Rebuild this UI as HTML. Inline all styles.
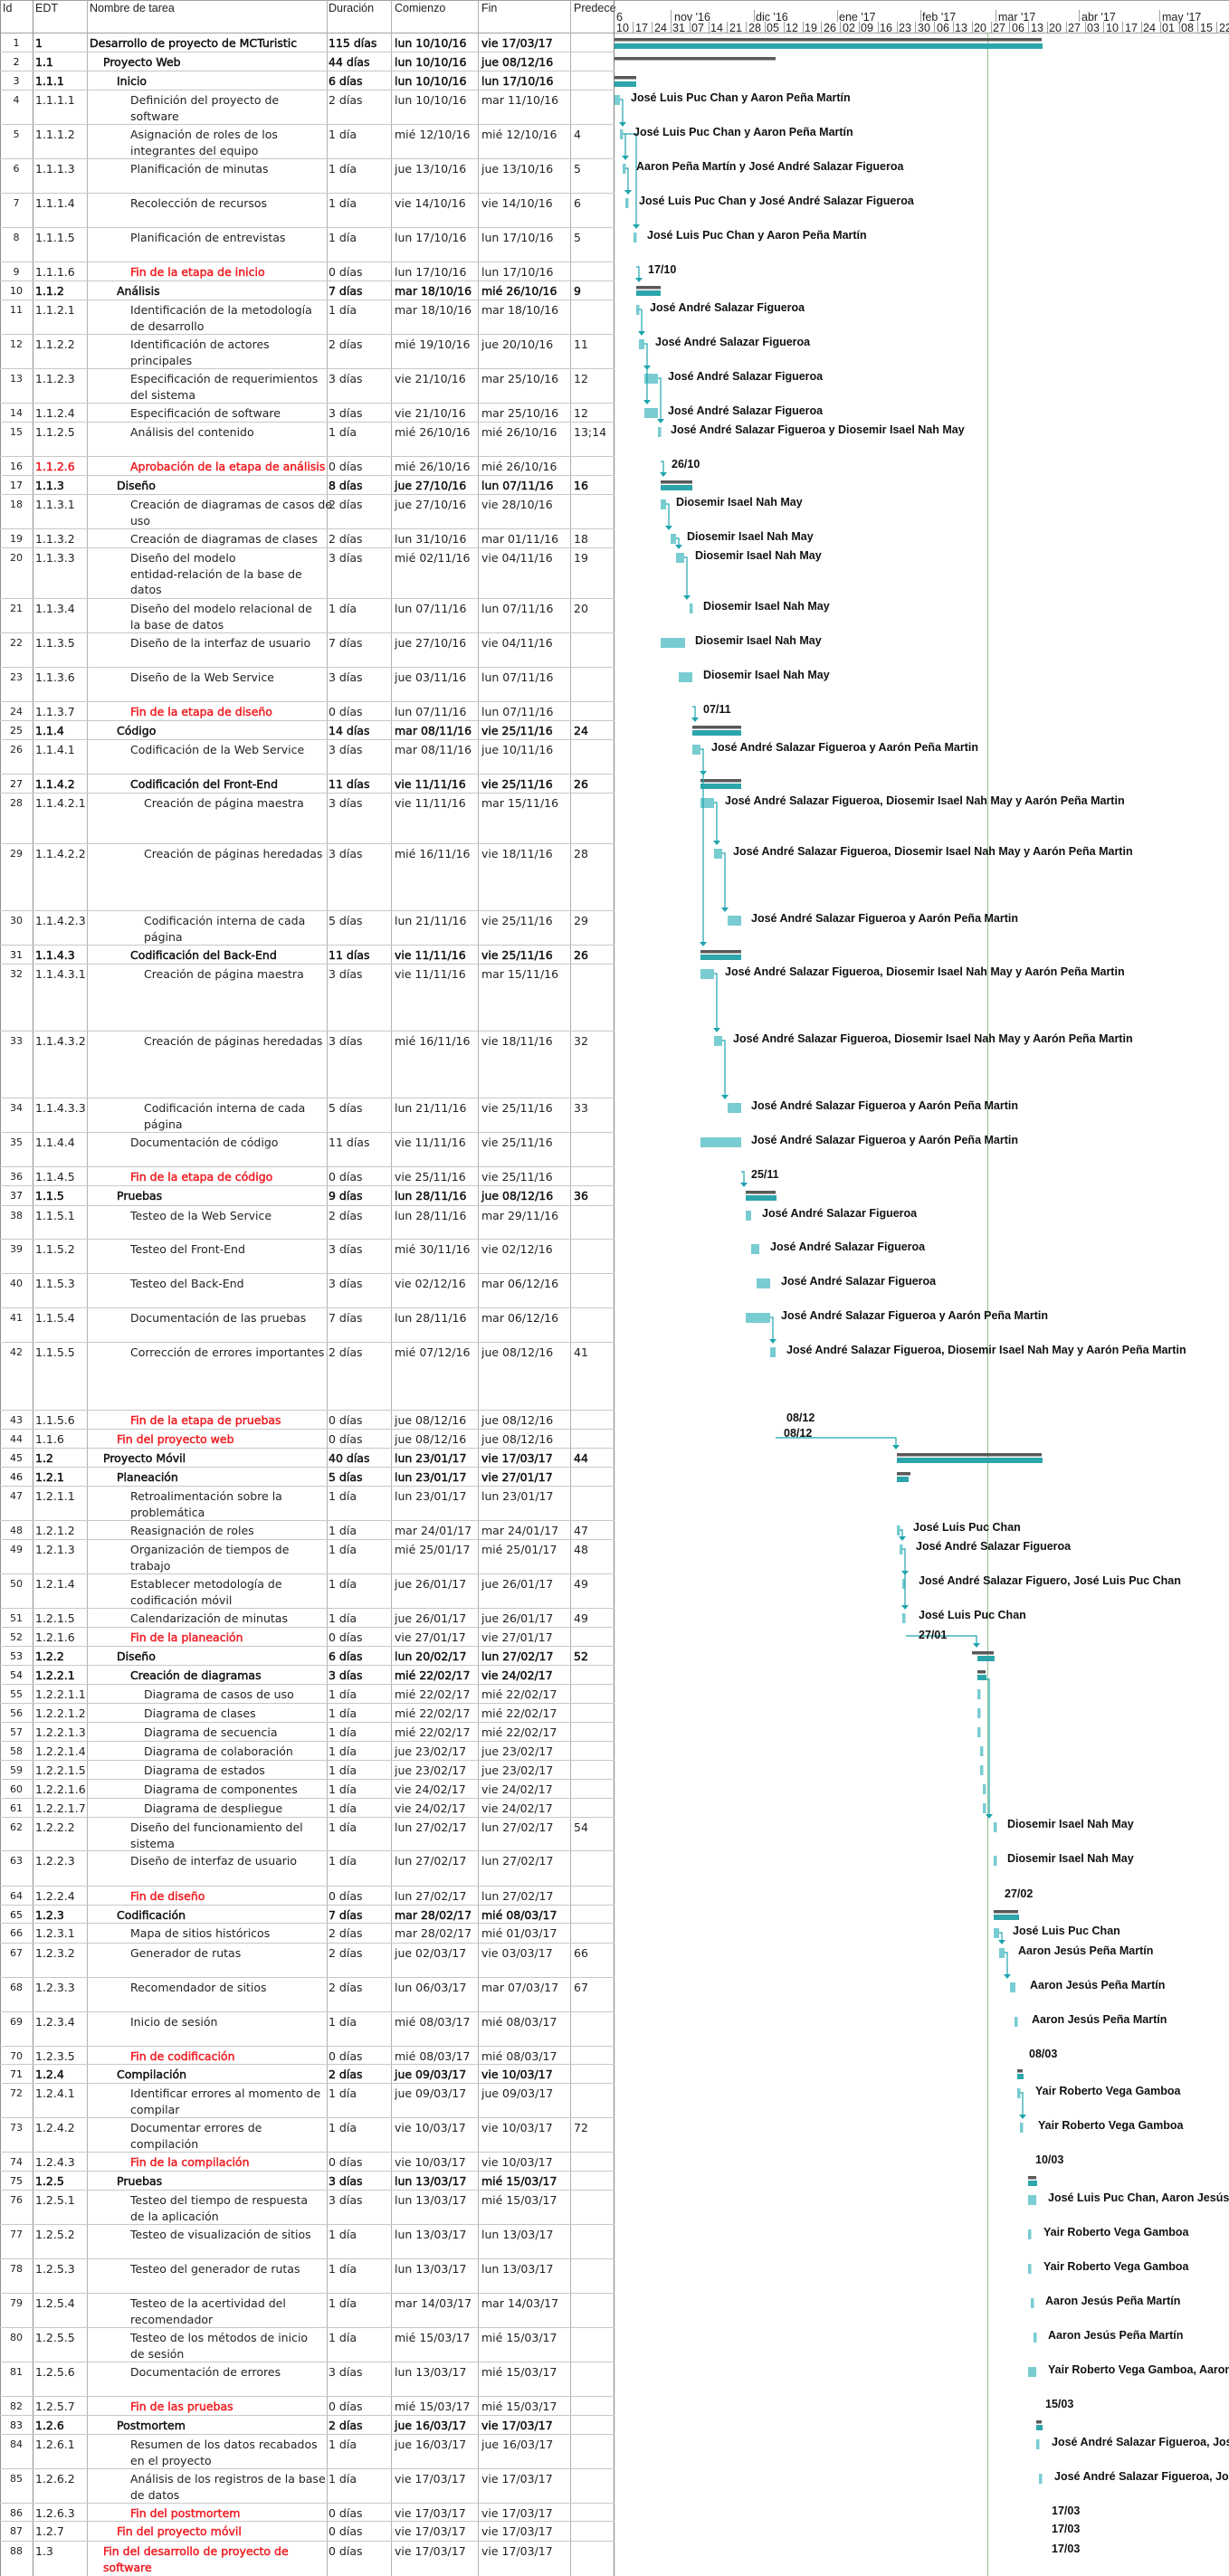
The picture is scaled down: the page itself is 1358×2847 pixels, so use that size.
<!DOCTYPE html>
<html><head><meta charset="utf-8">
<style>
html,body{margin:0;padding:0;background:#fff}
body{width:1358px;height:2847px;position:relative;overflow:hidden;font-family:"DejaVu Sans",sans-serif;font-size:12.5px;color:#222}
.r{position:absolute;left:0;width:679px;border-bottom:1px solid #c8c8c8;box-sizing:border-box}
.r span{position:absolute;top:2px;line-height:17.5px;white-space:nowrap}
.a{left:0;width:36px;text-align:center;font-size:11px}
.e{left:39px}.d{left:363px}.s{left:436px}.f{left:532px}.p{left:634px}
.l1{left:99px}.l2{left:114px}.l3{left:129px}.l4{left:144px}.l5{left:159px}
.B span{-webkit-text-stroke:.45px;color:#111}
.B span.a{-webkit-text-stroke:0}
.red{color:#f01e23!important;-webkit-text-stroke:.45px}
.v{position:absolute;top:0;width:1px;height:2847px;background:#b0b0b0}
.h{position:absolute;top:0;height:37px;font-family:"Liberation Sans",sans-serif;font-size:12.5px;color:#222;line-height:18px}
</style></head><body>
<div style="position:absolute;left:0;top:0;width:1358px;height:1px;background:#a0a0a0"></div>
<div style="position:absolute;left:0;top:36px;width:1358px;height:1px;background:#a0a0a0"></div>
<div class="h" style="left:3px">Id</div>
<div class="h" style="left:39px">EDT</div>
<div class="h" style="left:99px">Nombre de tarea</div>
<div class="h" style="left:363px">Duración</div>
<div class="h" style="left:436px">Comienzo</div>
<div class="h" style="left:532px">Fin</div>
<div class="h" style="left:634px">Predece</div>
<div class="v" style="left:0;background:#909090"></div>
<div class="v" style="left:36px;background:#909090"></div>
<div class="v" style="left:96px"></div>
<div class="v" style="left:361px"></div>
<div class="v" style="left:432px"></div>
<div class="v" style="left:528px"></div>
<div class="v" style="left:630px"></div>
<div class="v" style="left:678px;background:#808080"></div>

<div class="r B" style="top:37px;height:21px"><span class="a">1</span><span class="e">1</span><span class="l1">Desarrollo de proyecto de MCTuristic</span><span class="d">115 días</span><span class="s">lun 10/10/16</span><span class="f">vie 17/03/17</span></div>
<div class="r B" style="top:58px;height:21px"><span class="a">2</span><span class="e">1.1</span><span class="l2">Proyecto Web</span><span class="d">44 días</span><span class="s">lun 10/10/16</span><span class="f">jue 08/12/16</span></div>
<div class="r B" style="top:79px;height:21px"><span class="a">3</span><span class="e">1.1.1</span><span class="l3">Inicio</span><span class="d">6 días</span><span class="s">lun 10/10/16</span><span class="f">lun 17/10/16</span></div>
<div class="r" style="top:100px;height:38px"><span class="a">4</span><span class="e">1.1.1.1</span><span class="l4">Definición del proyecto de<br>software</span><span class="d">2 días</span><span class="s">lun 10/10/16</span><span class="f">mar 11/10/16</span></div>
<div class="r" style="top:138px;height:38px"><span class="a">5</span><span class="e">1.1.1.2</span><span class="l4">Asignación de roles de los<br>integrantes del equipo</span><span class="d">1 día</span><span class="s">mié 12/10/16</span><span class="f">mié 12/10/16</span><span class="p">4</span></div>
<div class="r" style="top:176px;height:38px"><span class="a">6</span><span class="e">1.1.1.3</span><span class="l4">Planificación de minutas</span><span class="d">1 día</span><span class="s">jue 13/10/16</span><span class="f">jue 13/10/16</span><span class="p">5</span></div>
<div class="r" style="top:214px;height:38px"><span class="a">7</span><span class="e">1.1.1.4</span><span class="l4">Recolección de recursos</span><span class="d">1 día</span><span class="s">vie 14/10/16</span><span class="f">vie 14/10/16</span><span class="p">6</span></div>
<div class="r" style="top:252px;height:38px"><span class="a">8</span><span class="e">1.1.1.5</span><span class="l4">Planificación de entrevistas</span><span class="d">1 día</span><span class="s">lun 17/10/16</span><span class="f">lun 17/10/16</span><span class="p">5</span></div>
<div class="r" style="top:290px;height:21px"><span class="a">9</span><span class="e">1.1.1.6</span><span class="l4 red">Fin de la etapa de inicio</span><span class="d">0 días</span><span class="s">lun 17/10/16</span><span class="f">lun 17/10/16</span></div>
<div class="r B" style="top:311px;height:21px"><span class="a">10</span><span class="e">1.1.2</span><span class="l3">Análisis</span><span class="d">7 días</span><span class="s">mar 18/10/16</span><span class="f">mié 26/10/16</span><span class="p">9</span></div>
<div class="r" style="top:332px;height:38px"><span class="a">11</span><span class="e">1.1.2.1</span><span class="l4">Identificación de la metodología<br>de desarrollo</span><span class="d">1 día</span><span class="s">mar 18/10/16</span><span class="f">mar 18/10/16</span></div>
<div class="r" style="top:370px;height:38px"><span class="a">12</span><span class="e">1.1.2.2</span><span class="l4">Identificación de actores<br>principales</span><span class="d">2 días</span><span class="s">mié 19/10/16</span><span class="f">jue 20/10/16</span><span class="p">11</span></div>
<div class="r" style="top:408px;height:38px"><span class="a">13</span><span class="e">1.1.2.3</span><span class="l4">Especificación de requerimientos<br>del sistema</span><span class="d">3 días</span><span class="s">vie 21/10/16</span><span class="f">mar 25/10/16</span><span class="p">12</span></div>
<div class="r" style="top:446px;height:21px"><span class="a">14</span><span class="e">1.1.2.4</span><span class="l4">Especificación de software</span><span class="d">3 días</span><span class="s">vie 21/10/16</span><span class="f">mar 25/10/16</span><span class="p">12</span></div>
<div class="r" style="top:467px;height:38px"><span class="a">15</span><span class="e">1.1.2.5</span><span class="l4">Análisis del contenido</span><span class="d">1 día</span><span class="s">mié 26/10/16</span><span class="f">mié 26/10/16</span><span class="p">13;14</span></div>
<div class="r" style="top:505px;height:21px"><span class="a">16</span><span class="e red">1.1.2.6</span><span class="l4 red">Aprobación de la etapa de análisis</span><span class="d">0 días</span><span class="s">mié 26/10/16</span><span class="f">mié 26/10/16</span></div>
<div class="r B" style="top:526px;height:21px"><span class="a">17</span><span class="e">1.1.3</span><span class="l3">Diseño</span><span class="d">8 días</span><span class="s">jue 27/10/16</span><span class="f">lun 07/11/16</span><span class="p">16</span></div>
<div class="r" style="top:547px;height:38px"><span class="a">18</span><span class="e">1.1.3.1</span><span class="l4">Creación de diagramas de casos de<br>uso</span><span class="d">2 días</span><span class="s">jue 27/10/16</span><span class="f">vie 28/10/16</span></div>
<div class="r" style="top:585px;height:21px"><span class="a">19</span><span class="e">1.1.3.2</span><span class="l4">Creación de diagramas de clases</span><span class="d">2 días</span><span class="s">lun 31/10/16</span><span class="f">mar 01/11/16</span><span class="p">18</span></div>
<div class="r" style="top:606px;height:56px"><span class="a">20</span><span class="e">1.1.3.3</span><span class="l4">Diseño del modelo<br>entidad-relación de la base de<br>datos</span><span class="d">3 días</span><span class="s">mié 02/11/16</span><span class="f">vie 04/11/16</span><span class="p">19</span></div>
<div class="r" style="top:662px;height:38px"><span class="a">21</span><span class="e">1.1.3.4</span><span class="l4">Diseño del modelo relacional de<br>la base de datos</span><span class="d">1 día</span><span class="s">lun 07/11/16</span><span class="f">lun 07/11/16</span><span class="p">20</span></div>
<div class="r" style="top:700px;height:38px"><span class="a">22</span><span class="e">1.1.3.5</span><span class="l4">Diseño de la interfaz de usuario</span><span class="d">7 días</span><span class="s">jue 27/10/16</span><span class="f">vie 04/11/16</span></div>
<div class="r" style="top:738px;height:38px"><span class="a">23</span><span class="e">1.1.3.6</span><span class="l4">Diseño de la Web Service</span><span class="d">3 días</span><span class="s">jue 03/11/16</span><span class="f">lun 07/11/16</span></div>
<div class="r" style="top:776px;height:21px"><span class="a">24</span><span class="e">1.1.3.7</span><span class="l4 red">Fin de la etapa de diseño</span><span class="d">0 días</span><span class="s">lun 07/11/16</span><span class="f">lun 07/11/16</span></div>
<div class="r B" style="top:797px;height:21px"><span class="a">25</span><span class="e">1.1.4</span><span class="l3">Código</span><span class="d">14 días</span><span class="s">mar 08/11/16</span><span class="f">vie 25/11/16</span><span class="p">24</span></div>
<div class="r" style="top:818px;height:38px"><span class="a">26</span><span class="e">1.1.4.1</span><span class="l4">Codificación de la Web Service</span><span class="d">3 días</span><span class="s">mar 08/11/16</span><span class="f">jue 10/11/16</span></div>
<div class="r B" style="top:856px;height:21px"><span class="a">27</span><span class="e">1.1.4.2</span><span class="l4">Codificación del Front-End</span><span class="d">11 días</span><span class="s">vie 11/11/16</span><span class="f">vie 25/11/16</span><span class="p">26</span></div>
<div class="r" style="top:877px;height:56px"><span class="a">28</span><span class="e">1.1.4.2.1</span><span class="l5">Creación de página maestra</span><span class="d">3 días</span><span class="s">vie 11/11/16</span><span class="f">mar 15/11/16</span></div>
<div class="r" style="top:933px;height:74px"><span class="a">29</span><span class="e">1.1.4.2.2</span><span class="l5">Creación de páginas heredadas</span><span class="d">3 días</span><span class="s">mié 16/11/16</span><span class="f">vie 18/11/16</span><span class="p">28</span></div>
<div class="r" style="top:1007px;height:38px"><span class="a">30</span><span class="e">1.1.4.2.3</span><span class="l5">Codificación interna de cada<br>página</span><span class="d">5 días</span><span class="s">lun 21/11/16</span><span class="f">vie 25/11/16</span><span class="p">29</span></div>
<div class="r B" style="top:1045px;height:21px"><span class="a">31</span><span class="e">1.1.4.3</span><span class="l4">Codificación del Back-End</span><span class="d">11 días</span><span class="s">vie 11/11/16</span><span class="f">vie 25/11/16</span><span class="p">26</span></div>
<div class="r" style="top:1066px;height:74px"><span class="a">32</span><span class="e">1.1.4.3.1</span><span class="l5">Creación de página maestra</span><span class="d">3 días</span><span class="s">vie 11/11/16</span><span class="f">mar 15/11/16</span></div>
<div class="r" style="top:1140px;height:74px"><span class="a">33</span><span class="e">1.1.4.3.2</span><span class="l5">Creación de páginas heredadas</span><span class="d">3 días</span><span class="s">mié 16/11/16</span><span class="f">vie 18/11/16</span><span class="p">32</span></div>
<div class="r" style="top:1214px;height:38px"><span class="a">34</span><span class="e">1.1.4.3.3</span><span class="l5">Codificación interna de cada<br>página</span><span class="d">5 días</span><span class="s">lun 21/11/16</span><span class="f">vie 25/11/16</span><span class="p">33</span></div>
<div class="r" style="top:1252px;height:38px"><span class="a">35</span><span class="e">1.1.4.4</span><span class="l4">Documentación de código</span><span class="d">11 días</span><span class="s">vie 11/11/16</span><span class="f">vie 25/11/16</span></div>
<div class="r" style="top:1290px;height:21px"><span class="a">36</span><span class="e">1.1.4.5</span><span class="l4 red">Fin de la etapa de código</span><span class="d">0 días</span><span class="s">vie 25/11/16</span><span class="f">vie 25/11/16</span></div>
<div class="r B" style="top:1311px;height:22px"><span class="a">37</span><span class="e">1.1.5</span><span class="l3">Pruebas</span><span class="d">9 días</span><span class="s">lun 28/11/16</span><span class="f">jue 08/12/16</span><span class="p">36</span></div>
<div class="r" style="top:1333px;height:37px"><span class="a">38</span><span class="e">1.1.5.1</span><span class="l4">Testeo de la Web Service</span><span class="d">2 días</span><span class="s">lun 28/11/16</span><span class="f">mar 29/11/16</span></div>
<div class="r" style="top:1370px;height:38px"><span class="a">39</span><span class="e">1.1.5.2</span><span class="l4">Testeo del Front-End</span><span class="d">3 días</span><span class="s">mié 30/11/16</span><span class="f">vie 02/12/16</span></div>
<div class="r" style="top:1408px;height:38px"><span class="a">40</span><span class="e">1.1.5.3</span><span class="l4">Testeo del Back-End</span><span class="d">3 días</span><span class="s">vie 02/12/16</span><span class="f">mar 06/12/16</span></div>
<div class="r" style="top:1446px;height:38px"><span class="a">41</span><span class="e">1.1.5.4</span><span class="l4">Documentación de las pruebas</span><span class="d">7 días</span><span class="s">lun 28/11/16</span><span class="f">mar 06/12/16</span></div>
<div class="r" style="top:1484px;height:75px"><span class="a">42</span><span class="e">1.1.5.5</span><span class="l4">Corrección de errores importantes</span><span class="d">2 días</span><span class="s">mié 07/12/16</span><span class="f">jue 08/12/16</span><span class="p">41</span></div>
<div class="r" style="top:1559px;height:21px"><span class="a">43</span><span class="e">1.1.5.6</span><span class="l4 red">Fin de la etapa de pruebas</span><span class="d">0 días</span><span class="s">jue 08/12/16</span><span class="f">jue 08/12/16</span></div>
<div class="r" style="top:1580px;height:21px"><span class="a">44</span><span class="e">1.1.6</span><span class="l3 red">Fin del proyecto web</span><span class="d">0 días</span><span class="s">jue 08/12/16</span><span class="f">jue 08/12/16</span></div>
<div class="r B" style="top:1601px;height:21px"><span class="a">45</span><span class="e">1.2</span><span class="l2">Proyecto Móvil</span><span class="d">40 días</span><span class="s">lun 23/01/17</span><span class="f">vie 17/03/17</span><span class="p">44</span></div>
<div class="r B" style="top:1622px;height:21px"><span class="a">46</span><span class="e">1.2.1</span><span class="l3">Planeación</span><span class="d">5 días</span><span class="s">lun 23/01/17</span><span class="f">vie 27/01/17</span></div>
<div class="r" style="top:1643px;height:38px"><span class="a">47</span><span class="e">1.2.1.1</span><span class="l4">Retroalimentación sobre la<br>problemática</span><span class="d">1 día</span><span class="s">lun 23/01/17</span><span class="f">lun 23/01/17</span></div>
<div class="r" style="top:1681px;height:21px"><span class="a">48</span><span class="e">1.2.1.2</span><span class="l4">Reasignación de roles</span><span class="d">1 día</span><span class="s">mar 24/01/17</span><span class="f">mar 24/01/17</span><span class="p">47</span></div>
<div class="r" style="top:1702px;height:38px"><span class="a">49</span><span class="e">1.2.1.3</span><span class="l4">Organización de tiempos de<br>trabajo</span><span class="d">1 día</span><span class="s">mié 25/01/17</span><span class="f">mié 25/01/17</span><span class="p">48</span></div>
<div class="r" style="top:1740px;height:38px"><span class="a">50</span><span class="e">1.2.1.4</span><span class="l4">Establecer metodología de<br>codificación móvil</span><span class="d">1 día</span><span class="s">jue 26/01/17</span><span class="f">jue 26/01/17</span><span class="p">49</span></div>
<div class="r" style="top:1778px;height:21px"><span class="a">51</span><span class="e">1.2.1.5</span><span class="l4">Calendarización de minutas</span><span class="d">1 día</span><span class="s">jue 26/01/17</span><span class="f">jue 26/01/17</span><span class="p">49</span></div>
<div class="r" style="top:1799px;height:21px"><span class="a">52</span><span class="e">1.2.1.6</span><span class="l4 red">Fin de la planeación</span><span class="d">0 días</span><span class="s">vie 27/01/17</span><span class="f">vie 27/01/17</span></div>
<div class="r B" style="top:1820px;height:21px"><span class="a">53</span><span class="e">1.2.2</span><span class="l3">Diseño</span><span class="d">6 días</span><span class="s">lun 20/02/17</span><span class="f">lun 27/02/17</span><span class="p">52</span></div>
<div class="r B" style="top:1841px;height:21px"><span class="a">54</span><span class="e">1.2.2.1</span><span class="l4">Creación de diagramas</span><span class="d">3 días</span><span class="s">mié 22/02/17</span><span class="f">vie 24/02/17</span></div>
<div class="r" style="top:1862px;height:21px"><span class="a">55</span><span class="e">1.2.2.1.1</span><span class="l5">Diagrama de casos de uso</span><span class="d">1 día</span><span class="s">mié 22/02/17</span><span class="f">mié 22/02/17</span></div>
<div class="r" style="top:1883px;height:21px"><span class="a">56</span><span class="e">1.2.2.1.2</span><span class="l5">Diagrama de clases</span><span class="d">1 día</span><span class="s">mié 22/02/17</span><span class="f">mié 22/02/17</span></div>
<div class="r" style="top:1904px;height:21px"><span class="a">57</span><span class="e">1.2.2.1.3</span><span class="l5">Diagrama de secuencia</span><span class="d">1 día</span><span class="s">mié 22/02/17</span><span class="f">mié 22/02/17</span></div>
<div class="r" style="top:1925px;height:21px"><span class="a">58</span><span class="e">1.2.2.1.4</span><span class="l5">Diagrama de colaboración</span><span class="d">1 día</span><span class="s">jue 23/02/17</span><span class="f">jue 23/02/17</span></div>
<div class="r" style="top:1946px;height:21px"><span class="a">59</span><span class="e">1.2.2.1.5</span><span class="l5">Diagrama de estados</span><span class="d">1 día</span><span class="s">jue 23/02/17</span><span class="f">jue 23/02/17</span></div>
<div class="r" style="top:1967px;height:21px"><span class="a">60</span><span class="e">1.2.2.1.6</span><span class="l5">Diagrama de componentes</span><span class="d">1 día</span><span class="s">vie 24/02/17</span><span class="f">vie 24/02/17</span></div>
<div class="r" style="top:1988px;height:21px"><span class="a">61</span><span class="e">1.2.2.1.7</span><span class="l5">Diagrama de despliegue</span><span class="d">1 día</span><span class="s">vie 24/02/17</span><span class="f">vie 24/02/17</span></div>
<div class="r" style="top:2009px;height:37px"><span class="a">62</span><span class="e">1.2.2.2</span><span class="l4">Diseño del funcionamiento del<br>sistema</span><span class="d">1 día</span><span class="s">lun 27/02/17</span><span class="f">lun 27/02/17</span><span class="p">54</span></div>
<div class="r" style="top:2046px;height:39px"><span class="a">63</span><span class="e">1.2.2.3</span><span class="l4">Diseño de interfaz de usuario</span><span class="d">1 día</span><span class="s">lun 27/02/17</span><span class="f">lun 27/02/17</span></div>
<div class="r" style="top:2085px;height:21px"><span class="a">64</span><span class="e">1.2.2.4</span><span class="l4 red">Fin de diseño</span><span class="d">0 días</span><span class="s">lun 27/02/17</span><span class="f">lun 27/02/17</span></div>
<div class="r B" style="top:2106px;height:20px"><span class="a">65</span><span class="e">1.2.3</span><span class="l3">Codificación</span><span class="d">7 días</span><span class="s">mar 28/02/17</span><span class="f">mié 08/03/17</span></div>
<div class="r" style="top:2126px;height:22px"><span class="a">66</span><span class="e">1.2.3.1</span><span class="l4">Mapa de sitios históricos</span><span class="d">2 días</span><span class="s">mar 28/02/17</span><span class="f">mié 01/03/17</span></div>
<div class="r" style="top:2148px;height:38px"><span class="a">67</span><span class="e">1.2.3.2</span><span class="l4">Generador de rutas</span><span class="d">2 días</span><span class="s">jue 02/03/17</span><span class="f">vie 03/03/17</span><span class="p">66</span></div>
<div class="r" style="top:2186px;height:38px"><span class="a">68</span><span class="e">1.2.3.3</span><span class="l4">Recomendador de sitios</span><span class="d">2 días</span><span class="s">lun 06/03/17</span><span class="f">mar 07/03/17</span><span class="p">67</span></div>
<div class="r" style="top:2224px;height:38px"><span class="a">69</span><span class="e">1.2.3.4</span><span class="l4">Inicio de sesión</span><span class="d">1 día</span><span class="s">mié 08/03/17</span><span class="f">mié 08/03/17</span></div>
<div class="r" style="top:2262px;height:20px"><span class="a">70</span><span class="e">1.2.3.5</span><span class="l4 red">Fin de codificación</span><span class="d">0 días</span><span class="s">mié 08/03/17</span><span class="f">mié 08/03/17</span></div>
<div class="r B" style="top:2282px;height:21px"><span class="a">71</span><span class="e">1.2.4</span><span class="l3">Compilación</span><span class="d">2 días</span><span class="s">jue 09/03/17</span><span class="f">vie 10/03/17</span></div>
<div class="r" style="top:2303px;height:38px"><span class="a">72</span><span class="e">1.2.4.1</span><span class="l4">Identificar errores al momento de<br>compilar</span><span class="d">1 día</span><span class="s">jue 09/03/17</span><span class="f">jue 09/03/17</span></div>
<div class="r" style="top:2341px;height:38px"><span class="a">73</span><span class="e">1.2.4.2</span><span class="l4">Documentar errores de<br>compilación</span><span class="d">1 día</span><span class="s">vie 10/03/17</span><span class="f">vie 10/03/17</span><span class="p">72</span></div>
<div class="r" style="top:2379px;height:21px"><span class="a">74</span><span class="e">1.2.4.3</span><span class="l4 red">Fin de la compilación</span><span class="d">0 días</span><span class="s">vie 10/03/17</span><span class="f">vie 10/03/17</span></div>
<div class="r B" style="top:2400px;height:21px"><span class="a">75</span><span class="e">1.2.5</span><span class="l3">Pruebas</span><span class="d">3 días</span><span class="s">lun 13/03/17</span><span class="f">mié 15/03/17</span></div>
<div class="r" style="top:2421px;height:38px"><span class="a">76</span><span class="e">1.2.5.1</span><span class="l4">Testeo del tiempo de respuesta<br>de la aplicación</span><span class="d">3 días</span><span class="s">lun 13/03/17</span><span class="f">mié 15/03/17</span></div>
<div class="r" style="top:2459px;height:38px"><span class="a">77</span><span class="e">1.2.5.2</span><span class="l4">Testeo de visualización de sitios</span><span class="d">1 día</span><span class="s">lun 13/03/17</span><span class="f">lun 13/03/17</span></div>
<div class="r" style="top:2497px;height:38px"><span class="a">78</span><span class="e">1.2.5.3</span><span class="l4">Testeo del generador de rutas</span><span class="d">1 día</span><span class="s">lun 13/03/17</span><span class="f">lun 13/03/17</span></div>
<div class="r" style="top:2535px;height:38px"><span class="a">79</span><span class="e">1.2.5.4</span><span class="l4">Testeo de la acertividad del<br>recomendador</span><span class="d">1 día</span><span class="s">mar 14/03/17</span><span class="f">mar 14/03/17</span></div>
<div class="r" style="top:2573px;height:38px"><span class="a">80</span><span class="e">1.2.5.5</span><span class="l4">Testeo de los métodos de inicio<br>de sesión</span><span class="d">1 día</span><span class="s">mié 15/03/17</span><span class="f">mié 15/03/17</span></div>
<div class="r" style="top:2611px;height:38px"><span class="a">81</span><span class="e">1.2.5.6</span><span class="l4">Documentación de errores</span><span class="d">3 días</span><span class="s">lun 13/03/17</span><span class="f">mié 15/03/17</span></div>
<div class="r" style="top:2649px;height:21px"><span class="a">82</span><span class="e">1.2.5.7</span><span class="l4 red">Fin de las pruebas</span><span class="d">0 días</span><span class="s">mié 15/03/17</span><span class="f">mié 15/03/17</span></div>
<div class="r B" style="top:2670px;height:21px"><span class="a">83</span><span class="e">1.2.6</span><span class="l3">Postmortem</span><span class="d">2 días</span><span class="s">jue 16/03/17</span><span class="f">vie 17/03/17</span></div>
<div class="r" style="top:2691px;height:38px"><span class="a">84</span><span class="e">1.2.6.1</span><span class="l4">Resumen de los datos recabados<br>en el proyecto</span><span class="d">1 día</span><span class="s">jue 16/03/17</span><span class="f">jue 16/03/17</span></div>
<div class="r" style="top:2729px;height:38px"><span class="a">85</span><span class="e">1.2.6.2</span><span class="l4">Análisis de los registros de la base<br>de datos</span><span class="d">1 día</span><span class="s">vie 17/03/17</span><span class="f">vie 17/03/17</span></div>
<div class="r" style="top:2767px;height:20px"><span class="a">86</span><span class="e">1.2.6.3</span><span class="l4 red">Fin del postmortem</span><span class="d">0 días</span><span class="s">vie 17/03/17</span><span class="f">vie 17/03/17</span></div>
<div class="r" style="top:2787px;height:22px"><span class="a">87</span><span class="e">1.2.7</span><span class="l3 red">Fin del proyecto móvil</span><span class="d">0 días</span><span class="s">vie 17/03/17</span><span class="f">vie 17/03/17</span></div>
<div class="r" style="top:2809px;height:38px;border-bottom:0"><span class="a">88</span><span class="e">1.3</span><span class="l2 red">Fin del desarrollo de proyecto de<br>software</span><span class="d">0 días</span><span class="s">vie 17/03/17</span><span class="f">vie 17/03/17</span></div>

<svg style="position:absolute;left:0;top:0" width="1358" height="2847" xmlns="http://www.w3.org/2000/svg">
<g font-family="Liberation Sans, sans-serif" font-size="12.5" fill="#222">
<text x="681" y="23">6</text>
<text x="745" y="23">nov '16</text><text x="835" y="23">dic '16</text><text x="927" y="23">ene '17</text><text x="1019" y="23">feb '17</text><text x="1103" y="23">mar '17</text><text x="1195" y="23">abr '17</text><text x="1284" y="23">may '17</text>
<text x="681" y="35">10</text><text x="702" y="35">17</text><text x="723" y="35">24</text><text x="743" y="35">31</text><text x="764" y="35">07</text><text x="785" y="35">14</text><text x="806" y="35">21</text><text x="827" y="35">28</text><text x="847" y="35">05</text><text x="868" y="35">12</text><text x="889" y="35">19</text><text x="910" y="35">26</text><text x="931" y="35">02</text><text x="951" y="35">09</text><text x="972" y="35">16</text><text x="993" y="35">23</text><text x="1014" y="35">30</text><text x="1035" y="35">06</text><text x="1055" y="35">13</text><text x="1076" y="35">20</text><text x="1097" y="35">27</text><text x="1118" y="35">06</text><text x="1139" y="35">13</text><text x="1159" y="35">20</text><text x="1180" y="35">27</text><text x="1201" y="35">03</text><text x="1222" y="35">10</text><text x="1243" y="35">17</text><text x="1263" y="35">24</text><text x="1284" y="35">01</text><text x="1305" y="35">08</text><text x="1326" y="35">15</text><text x="1347" y="35">22</text>
</g>
<g stroke="#a0a0a0" stroke-width="1">
<path d="M741.5 11V24M833.5 11V24M925.5 11V24M1017.5 11V24M1100.5 11V24M1192.5 11V24M1281.5 11V24"/>
<path d="M699.5 24V37M720.5 24V37M741.5 24V37M762.5 24V37M783.5 24V37M803.5 24V37M824.5 24V37M845.5 24V37M866.5 24V37M887.5 24V37M907.5 24V37M928.5 24V37M949.5 24V37M970.5 24V37M991.5 24V37M1011.5 24V37M1032.5 24V37M1053.5 24V37M1074.5 24V37M1095.5 24V37M1115.5 24V37M1136.5 24V37M1157.5 24V37M1178.5 24V37M1199.5 24V37M1219.5 24V37M1240.5 24V37M1261.5 24V37M1282.5 24V37M1303.5 24V37M1323.5 24V37M1344.5 24V37"/>
</g>
<line x1="1091.5" y1="37" x2="1091.5" y2="2847" stroke="#8fc08f" stroke-width="1"/>

<g fill="#595959">
<rect x="679" y="42" width="472" height="3.5"/><rect x="679" y="63" width="178" height="3.5"/><rect x="679" y="84" width="24" height="3.5"/>
<rect x="703" y="316" width="27" height="3.5"/><rect x="730" y="531" width="35" height="3.5"/><rect x="765" y="802" width="54" height="3.5"/>
<rect x="774" y="861" width="45" height="3.5"/><rect x="774" y="1050" width="45" height="3.5"/><rect x="824" y="1316" width="33" height="3.5"/>
<rect x="991" y="1606" width="160" height="3.5"/><rect x="991" y="1627" width="15" height="3.5"/><rect x="1074" y="1825" width="24" height="3.5"/>
<rect x="1080" y="1846" width="9" height="3.5"/><rect x="1098" y="2111" width="27" height="3.5"/><rect x="1124" y="2287" width="6" height="3.5"/>
<rect x="1136" y="2405" width="9" height="3.5"/><rect x="1145" y="2675" width="6" height="3.5"/>
</g>
<g fill="#2ca5ab">
<rect x="679" y="48" width="473" height="6"/><rect x="679" y="90" width="24" height="6"/>
<rect x="703" y="321" width="27" height="6"/><rect x="730" y="536" width="35" height="6"/><rect x="765" y="807" width="54" height="6"/>
<rect x="774" y="866" width="45" height="6"/><rect x="774" y="1055" width="45" height="6"/><rect x="824" y="1321" width="34" height="6"/>
<rect x="991" y="1611" width="161" height="6"/><rect x="991" y="1632" width="13" height="6"/><rect x="1080" y="1830" width="19" height="6"/>
<rect x="1080" y="1851" width="10" height="6"/><rect x="1098" y="2116" width="28" height="6"/><rect x="1124" y="2292" width="7" height="6"/>
<rect x="1136" y="2410" width="10" height="6"/><rect x="1145" y="2680" width="7" height="6"/>
</g>
<g fill="#78ccd2">
<rect x="679" y="105" width="6" height="11"/><rect x="685" y="143" width="3.5" height="11"/><rect x="688" y="181" width="3.5" height="11"/>
<rect x="691" y="219" width="3.5" height="11"/><rect x="700" y="257" width="3.5" height="11"/>
<rect x="703" y="337" width="3.5" height="11"/><rect x="706" y="375" width="6" height="11"/><rect x="712" y="413" width="15" height="11"/>
<rect x="712" y="451" width="15" height="11"/><rect x="727" y="472" width="3.5" height="11"/>
<rect x="730" y="552" width="6" height="11"/><rect x="741" y="590" width="6" height="11"/><rect x="747" y="611" width="9" height="11"/>
<rect x="762" y="667" width="3.5" height="11"/><rect x="730" y="705" width="27" height="11"/><rect x="750" y="743" width="15" height="11"/>
<rect x="765" y="823" width="9" height="11"/><rect x="774" y="882" width="15" height="11"/><rect x="789" y="938" width="9" height="11"/>
<rect x="804" y="1012" width="15" height="11"/><rect x="774" y="1071" width="15" height="11"/><rect x="789" y="1145" width="9" height="11"/>
<rect x="804" y="1219" width="15" height="11"/><rect x="774" y="1257" width="45" height="11"/>
<rect x="824" y="1338" width="6" height="11"/><rect x="830" y="1375" width="9" height="11"/><rect x="836" y="1413" width="15" height="11"/>
<rect x="824" y="1451" width="27" height="11"/><rect x="851" y="1489" width="6" height="11"/>
<rect x="991" y="1686" width="3.5" height="11"/><rect x="994" y="1707" width="3.5" height="11"/><rect x="997" y="1745" width="3.5" height="11"/><rect x="997" y="1783" width="3.5" height="11"/>
<rect x="1080" y="1867" width="3.5" height="11"/><rect x="1080" y="1888" width="3.5" height="11"/><rect x="1080" y="1909" width="3.5" height="11"/>
<rect x="1083" y="1930" width="3.5" height="11"/><rect x="1083" y="1951" width="3.5" height="11"/><rect x="1086" y="1972" width="3.5" height="11"/><rect x="1086" y="1993" width="3.5" height="11"/>
<rect x="1098" y="2014" width="3.5" height="11"/><rect x="1098" y="2051" width="3.5" height="11"/>
<rect x="1098" y="2131" width="6" height="11"/><rect x="1104" y="2153" width="6" height="11"/><rect x="1116" y="2191" width="6" height="11"/><rect x="1121" y="2229" width="3.5" height="11"/>
<rect x="1124" y="2308" width="3.5" height="11"/><rect x="1127" y="2346" width="3.5" height="11"/>
<rect x="1136" y="2426" width="9" height="11"/><rect x="1136" y="2464" width="3.5" height="11"/><rect x="1136" y="2502" width="3.5" height="11"/>
<rect x="1139" y="2540" width="3.5" height="11"/><rect x="1142" y="2578" width="3.5" height="11"/><rect x="1136" y="2616" width="9" height="11"/>
<rect x="1145" y="2696" width="3.5" height="11"/><rect x="1148" y="2734" width="3.5" height="11"/>
</g>
<g stroke="#1ea5ad" stroke-width="1.2" fill="none">
<path d="M685 110H688V137M688 148H691V175M688 148H703V251M691 186H694V213M703 295H706V310M706 342H709V369M712 380H715V445M727 418H730V466M730 510H733V525M736 557H739V584M747 595H750V605M756 616H759V661M765 781H768V796M774 828H777V1044M789 887H792V932M798 943H801V1006M789 1076H792V1139M798 1150H801V1213M819 1295H822V1310M851 1456H854V1483M857 1589H990V1600M994 1691H997V1701M997 1712H1000V1777M1001 1808H1079V1819M1089 1856H1093V2008M1104 2136H1107V2147M1110 2158H1113V2185M1127 2313H1130V2340"/>
</g>
<g fill="#1ea5ad">
<path d="M684 135h8l-4 5zM687 172h8l-4 5zM699 248h8l-4 5zM690 210h8l-4 5zM702 307h8l-4 5zM705 366h8l-4 5zM711 404h8l-4 5zM711 442h8l-4 5zM726 463h8l-4 5zM729 522h8l-4 5zM735 581h8l-4 5zM746 602h8l-4 5zM755 658h8l-4 5zM764 793h8l-4 5zM773 852h8l-4 5zM773 1041h8l-4 5zM788 929h8l-4 5zM797 1003h8l-4 5zM788 1136h8l-4 5zM797 1210h8l-4 5zM818 1307h8l-4 5zM850 1480h8l-4 5zM986 1597h8l-4 5zM993 1698h8l-4 5zM996 1736h8l-4 5zM996 1774h8l-4 5zM1075 1816h8l-4 5zM1089 2005h8l-4 5zM1103 2144h8l-4 5zM1109 2182h8l-4 5zM1126 2337h8l-4 5z"/>
</g>
<g font-family="Liberation Sans, sans-serif" font-size="12.5" font-weight="bold" fill="#111">
<text x="697" y="112">José Luis Puc Chan y Aaron Peña Martín</text>
<text x="700" y="150">José Luis Puc Chan y Aaron Peña Martín</text>
<text x="703" y="188">Aaron Peña Martín y José André Salazar Figueroa</text>
<text x="706" y="226">José Luis Puc Chan y José André Salazar Figueroa</text>
<text x="715" y="264">José Luis Puc Chan y Aaron Peña Martín</text>
<text x="716" y="302">17/10</text>
<text x="718" y="344">José André Salazar Figueroa</text>
<text x="724" y="382">José André Salazar Figueroa</text>
<text x="738" y="420">José André Salazar Figueroa</text>
<text x="738" y="458">José André Salazar Figueroa</text>
<text x="741" y="479">José André Salazar Figueroa y Diosemir Isael Nah May</text>
<text x="742" y="517">26/10</text>
<text x="747" y="559">Diosemir Isael Nah May</text>
<text x="759" y="597">Diosemir Isael Nah May</text>
<text x="768" y="618">Diosemir Isael Nah May</text>
<text x="777" y="674">Diosemir Isael Nah May</text>
<text x="768" y="712">Diosemir Isael Nah May</text>
<text x="777" y="750">Diosemir Isael Nah May</text>
<text x="777" y="788">07/11</text>
<text x="786" y="830">José André Salazar Figueroa y Aarón Peña Martin</text>
<text x="801" y="889">José André Salazar Figueroa, Diosemir Isael Nah May y Aarón Peña Martin</text>
<text x="810" y="945">José André Salazar Figueroa, Diosemir Isael Nah May y Aarón Peña Martin</text>
<text x="830" y="1019">José André Salazar Figueroa y Aarón Peña Martin</text>
<text x="801" y="1078">José André Salazar Figueroa, Diosemir Isael Nah May y Aarón Peña Martin</text>
<text x="810" y="1152">José André Salazar Figueroa, Diosemir Isael Nah May y Aarón Peña Martin</text>
<text x="830" y="1226">José André Salazar Figueroa y Aarón Peña Martin</text>
<text x="830" y="1264">José André Salazar Figueroa y Aarón Peña Martin</text>
<text x="830" y="1302">25/11</text>
<text x="842" y="1345">José André Salazar Figueroa</text>
<text x="851" y="1382">José André Salazar Figueroa</text>
<text x="863" y="1420">José André Salazar Figueroa</text>
<text x="863" y="1458">José André Salazar Figueroa y Aarón Peña Martin</text>
<text x="869" y="1496">José André Salazar Figueroa, Diosemir Isael Nah May y Aarón Peña Martin</text>
<text x="869" y="1571">08/12</text>
<text x="866" y="1588">08/12</text>
<text x="1009" y="1692">José Luis Puc Chan</text>
<text x="1012" y="1713">José André Salazar Figueroa</text>
<text x="1015" y="1751">José André Salazar Figuero, José Luis Puc Chan</text>
<text x="1015" y="1789">José Luis Puc Chan</text>
<text x="1015" y="1811">27/01</text>
<text x="1113" y="2020">Diosemir Isael Nah May</text>
<text x="1113" y="2058">Diosemir Isael Nah May</text>
<text x="1110" y="2097">27/02</text>
<text x="1119" y="2138">José Luis Puc Chan</text>
<text x="1125" y="2160">Aaron Jesús Peña Martín</text>
<text x="1138" y="2198">Aaron Jesús Peña Martín</text>
<text x="1140" y="2236">Aaron Jesús Peña Martín</text>
<text x="1137" y="2274">08/03</text>
<text x="1144" y="2315">Yair Roberto Vega Gamboa</text>
<text x="1147" y="2353">Yair Roberto Vega Gamboa</text>
<text x="1144" y="2391">10/03</text>
<text x="1158" y="2433">José Luis Puc Chan, Aaron Jesús Peña Martín</text>
<text x="1153" y="2471">Yair Roberto Vega Gamboa</text>
<text x="1153" y="2509">Yair Roberto Vega Gamboa</text>
<text x="1155" y="2547">Aaron Jesús Peña Martín</text>
<text x="1158" y="2585">Aaron Jesús Peña Martín</text>
<text x="1158" y="2623">Yair Roberto Vega Gamboa, Aaron Jesús Peña Martín</text>
<text x="1155" y="2661">15/03</text>
<text x="1162" y="2703">José André Salazar Figueroa, José Luis Puc Chan</text>
<text x="1165" y="2741">José André Salazar Figueroa, José Luis Puc Chan</text>
<text x="1162" y="2779">17/03</text>
<text x="1162" y="2799">17/03</text>
<text x="1162" y="2821">17/03</text>
</g>
</svg>
</body></html>
